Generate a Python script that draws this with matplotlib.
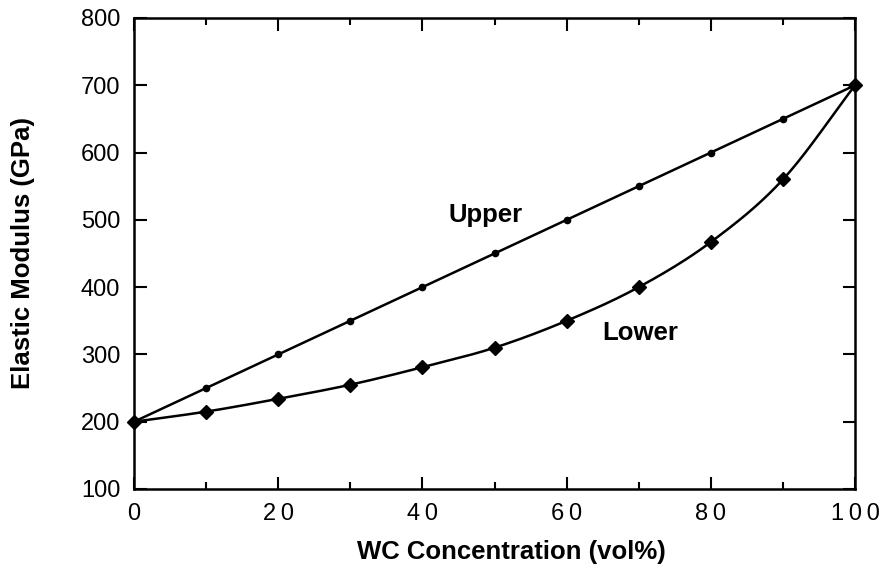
import numpy as np
import matplotlib.pyplot as plt
from matplotlib.ticker import MultipleLocator

plt.rcParams['font.family'] = ['Liberation Sans', 'DejaVu Sans']

# WC concentration (vol%)
wc = [0, 10, 20, 30, 40, 50, 60, 70, 80, 90, 100]
# upper and lower bound elastic modulus (GPa)
upper = [200, 250, 300, 350, 400, 450, 500, 550, 600, 650, 700]
lower = [200, 215, 234, 255, 281, 310, 350, 400, 467, 560, 700]
xtick_labels = ['0', '2\u20090', '4\u20090', '6\u20090', '8\u20090', '1\u20090\u20090']


def smooth(x, y, n=20):
    # catmull-rom curve through the points, only for drawing the line
    x = np.asarray(x, float)
    y = np.asarray(y, float)
    px = np.concatenate([[2*x[0]-x[1]], x, [2*x[-1]-x[-2]]])
    py = np.concatenate([[2*y[0]-y[1]], y, [2*y[-1]-y[-2]]])
    t = np.linspace(0, 1, n, endpoint=False)[:, None]
    xs, ys = [], []
    for i in range(1, len(px)-2):
        for p, out in ((px, xs), (py, ys)):
            p0, p1, p2, p3 = p[i-1], p[i], p[i+1], p[i+2]
            out.append((0.5*(2*p1 + (-p0+p2)*t + (2*p0-5*p1+4*p2-p3)*t**2
                             + (-p0+3*p1-3*p2+p3)*t**3)).ravel())
    return np.concatenate(xs + [[x[-1]]]), np.concatenate(ys + [[y[-1]]])


fig = plt.figure(figsize=(8.83, 5.73), dpi=100)
ax = fig.add_axes([0.1518, 0.1466, 0.8165, 0.822])

ax.plot(*smooth(wc, upper), color='black', lw=1.8, zorder=3)
ax.plot(wc, upper, ls='none', color='black', marker='o', ms=4.5, zorder=4, clip_on=False)
ax.plot(*smooth(wc, lower), color='black', lw=1.8, zorder=3)
ax.plot(wc, lower, ls='none', color='black', marker='D', ms=7.5, zorder=4, clip_on=False)

ax.text(48.7, 507, 'Upper', fontsize=18.5, fontweight='bold', ha='center', va='center')
ax.text(70.2, 332, 'Lower', fontsize=18.5, fontweight='bold', ha='center', va='center')

ax.set_xlim(0, 100)
ax.set_ylim(100, 800)
ax.xaxis.set_major_locator(MultipleLocator(20))
ax.xaxis.set_minor_locator(MultipleLocator(10))
ax.yaxis.set_major_locator(MultipleLocator(100))
ax.tick_params(which='both', direction='in', top=True, right=True, width=1.5)
ax.tick_params(which='major', length=9, labelsize=17, pad=10)
ax.tick_params(which='minor', length=5)
ax.set_xticks([0, 20, 40, 60, 80, 100])
ax.set_xticklabels(xtick_labels)
for s in ax.spines.values():
    s.set_linewidth(1.8)

ax.set_xlabel('WC Concentration (vol%)', fontsize=18.5, fontweight='bold', labelpad=11)
ax.xaxis.label.set_x(0.523)
ax.set_ylabel('Elastic Modulus (GPa)', fontsize=18.5, fontweight='bold', labelpad=33)

fig.savefig('out.png', dpi=100)
